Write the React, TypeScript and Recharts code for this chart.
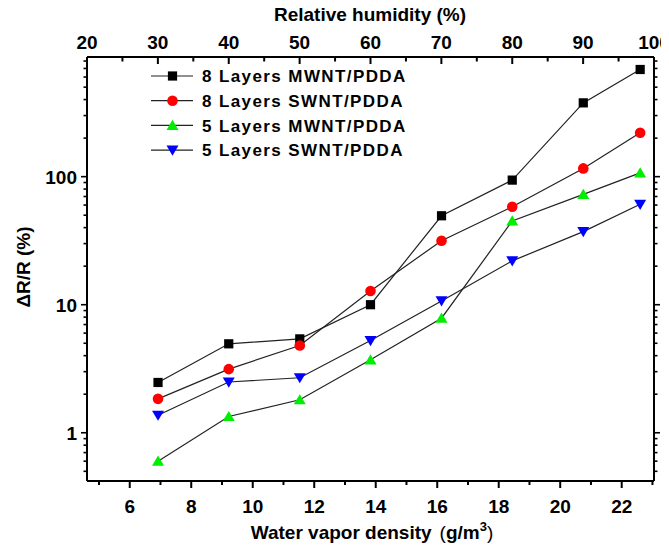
import React from 'react';
import { ComposedChart, Line, XAxis, YAxis } from 'recharts';

// water vapor density (g/m3) and matching relative humidity (%)
const density = [6.92, 9.22, 11.53, 13.83, 16.14, 18.44, 20.75, 22.6];
const humidity = [30, 40, 50, 60, 70, 80, 90, 98];

// ΔR/R (%) for each film
const mwnt8 = [2.47, 4.95, 5.41, 10.0, 49.5, 94, 377, 687];
const swnt8 = [1.84, 3.14, 4.8, 12.8, 31.6, 58.2, 116, 220];
const mwnt5 = [0.6, 1.34, 1.81, 3.71, 7.85, 45.1, 72.8, 107];
const swnt5 = [1.37, 2.49, 2.69, 5.25, 10.7, 22.0, 37.2, 60.8];

const densityTicks = [5, 6, 7, 8, 9, 10, 11, 12, 13, 14, 15, 16, 17, 18, 19, 20, 21, 22, 23];
const humidityTicks = [20, 25, 30, 35, 40, 45, 50, 55, 60, 65, 70, 75, 80, 85, 90, 95, 100];
const logTicks = [
  0.5, 0.6, 0.7, 0.8, 0.9,
  1, 2, 3, 4, 5, 6, 7, 8, 9,
  10, 20, 30, 40, 50, 60, 70, 80, 90,
  100, 200, 300, 400, 500, 600, 700, 800,
];
const logLabels = [1, 10, 100];

const series = [
  { key: 'mwnt8', name: '8 Layers MWNT/PDDA', color: '#000000', shape: 'square' },
  { key: 'swnt8', name: '8 Layers SWNT/PDDA', color: '#ff0000', shape: 'circle' },
  { key: 'mwnt5', name: '5 Layers MWNT/PDDA', color: '#00ee00', shape: 'up' },
  { key: 'swnt5', name: '5 Layers SWNT/PDDA', color: '#0000ff', shape: 'down' },
];

const data = density.map((x, i) => ({
  x,
  rh: humidity[i],
  mwnt8: mwnt8[i],
  swnt8: swnt8[i],
  mwnt5: mwnt5[i],
  swnt5: swnt5[i],
}));

const FONT = '"Liberation Sans", Arial, Helvetica, sans-serif';

function Marker({ cx, cy, shape, color }: any) {
  if (cx == null || cy == null) return null;
  if (shape === 'square') {
    return <rect x={cx - 4.6} y={cy - 4.6} width={9.2} height={9.2} fill={color} />;
  }
  if (shape === 'circle') {
    return <circle cx={cx} cy={cy} r={5.3} fill={color} />;
  }
  if (shape === 'up') {
    return (
      <polygon
        points={`${cx},${cy - 5.6} ${cx + 6},${cy + 4.6} ${cx - 6},${cy + 4.6}`}
        fill={color}
      />
    );
  }
  return (
    <polygon
      points={`${cx},${cy + 5.6} ${cx + 6},${cy - 4.6} ${cx - 6},${cy - 4.6}`}
      fill={color}
    />
  );
}

const labelStyle = { fontFamily: FONT, fontWeight: 700, fontSize: 19, fill: '#000' };

function BottomTick({ x, y, payload }: any) {
  const major = payload.value % 2 === 0;
  return (
    <g>
      <line x1={x} x2={x} y1={y} y2={y + (major ? 7 : 4)} stroke="#000" strokeWidth={2} />
      {major && (
        <text x={x} y={y + 32} textAnchor="middle" {...labelStyle}>
          {payload.value}
        </text>
      )}
    </g>
  );
}

function TopTick({ x, y, payload }: any) {
  const major = payload.value % 10 === 0;
  return (
    <g>
      <line x1={x} x2={x} y1={y} y2={y + (major ? 7 : 4.5)} stroke="#000" strokeWidth={2} />
      {major && (
        <text x={x} y={y - 8} textAnchor="middle" {...labelStyle}>
          {payload.value}
        </text>
      )}
    </g>
  );
}

function LeftTick({ x, y, payload }: any) {
  const major = logLabels.includes(payload.value);
  return (
    <g>
      <line x1={x} x2={x - (major ? 6 : 3.5)} y1={y} y2={y} stroke="#000" strokeWidth={1.6} />
      {major && (
        <text x={x - 10} y={y} dy="0.36em" textAnchor="end" {...labelStyle}>
          {payload.value}
        </text>
      )}
    </g>
  );
}

function RightTick({ x, y, payload }: any) {
  const major = logLabels.includes(payload.value);
  return (
    <line x1={x} x2={x + (major ? 6 : 3.5)} y1={y} y2={y} stroke="#000" strokeWidth={1.6} />
  );
}

const axisLine = { stroke: '#000', strokeWidth: 2 };

export default function App() {
  return (
    <div style={{ position: 'relative', width: 661, height: 541 }}>
      <ComposedChart
        width={661}
        height={541}
        data={data}
        margin={{ top: 0, right: 0, bottom: 0, left: 0 }}
      >
        <XAxis
          xAxisId="bottom"
          dataKey="x"
          type="number"
          domain={[4.61, 23.05]}
          allowDataOverflow
          ticks={densityTicks}
          interval={0}
          height={68}
          tickSize={0}
          tickMargin={0}
          tickLine={false}
          axisLine={axisLine}
          tick={<BottomTick />}
        />
        <XAxis
          xAxisId="top"
          dataKey="rh"
          orientation="top"
          type="number"
          domain={[20, 100]}
          allowDataOverflow
          ticks={humidityTicks}
          interval={0}
          height={49}
          tickSize={0}
          tickMargin={0}
          tickLine={false}
          axisLine={axisLine}
          tick={<TopTick />}
        />
        <YAxis
          yAxisId="left"
          scale="log"
          type="number"
          domain={[0.42, 860]}
          allowDataOverflow
          ticks={logTicks}
          interval={0}
          width={79}
          tickSize={0}
          tickMargin={0}
          tickLine={false}
          axisLine={axisLine}
          tick={<LeftTick />}
        />
        <YAxis
          yAxisId="right"
          orientation="right"
          scale="log"
          type="number"
          domain={[0.42, 860]}
          allowDataOverflow
          ticks={logTicks}
          interval={0}
          width={15}
          tickSize={0}
          tickMargin={0}
          tickLine={false}
          axisLine={axisLine}
          tick={<RightTick />}
        />
        {series.map((s) => (
          <Line
            key={s.key}
            xAxisId="bottom"
            yAxisId="left"
            dataKey={s.key}
            name={s.name}
            stroke="#222"
            strokeWidth={1.2}
            isAnimationActive={false}
            dot={(p: any) => (
              <Marker key={`${s.key}-${p.index}`} cx={p.cx} cy={p.cy} shape={s.shape} color={s.color} />
            )}
            activeDot={false}
          />
        ))}
      </ComposedChart>
      <svg
        width={661}
        height={541}
        style={{ position: 'absolute', left: 0, top: 0, pointerEvents: 'none', overflow: 'visible' }}
      >
        <text x={362} y={13} textAnchor="middle" {...labelStyle}>
          Relative humidity (%)
        </text>
        <text x={364} y={531} textAnchor="middle" {...labelStyle}>
          <tspan>Water vapor density</tspan>
          <tspan dx={8} fontWeight={400}>(</tspan>
          <tspan>g/m</tspan>
          <tspan dy={-8} fontSize={13}>3</tspan>
          <tspan dy={8} fontWeight={400}>)</tspan>
        </text>
        <text
          x={22}
          y={259}
          textAnchor="middle"
          transform="rotate(-90 22 259)"
          {...labelStyle}
        >
          ΔR/R (%)
        </text>
        {series.map((s, i) => {
          const y = 68 + i * 24.7;
          return (
            <g key={s.key}>
              <line x1={143} x2={185} y1={y} y2={y} stroke="#222" strokeWidth={1.2} />
              <Marker cx={164.5} cy={y} shape={s.shape} color={s.color} />
              <text
                x={194}
                y={y}
                dy="0.36em"
                fontFamily={FONT}
                fontWeight={700}
                fontSize={17}
                letterSpacing={1.4}
                fill="#000"
              >
                {s.name}
              </text>
            </g>
          );
        })}
      </svg>
    </div>
  );
}
